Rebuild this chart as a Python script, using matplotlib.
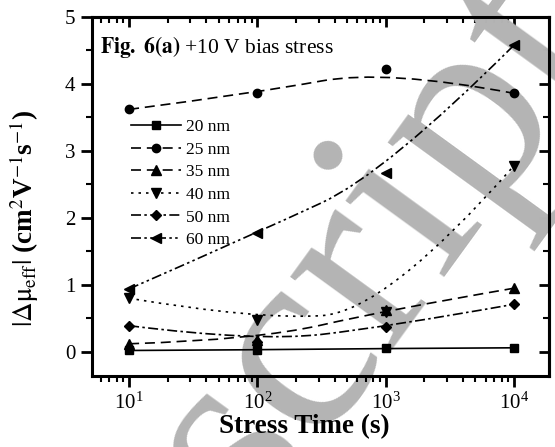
import numpy as np
from matplotlib import pyplot as plt
from matplotlib.path import Path
from matplotlib.patches import PathPatch
from matplotlib.lines import Line2D
from matplotlib.ticker import MultipleLocator, NullFormatter

plt.rcParams['font.family'] = ['Liberation Serif', 'DejaVu Serif']
plt.rcParams['mathtext.fontset'] = 'stix'

# stress time (s)
t = [10, 100, 1000, 10000]
labels = ['20 nm', '25 nm', '35 nm', '40 nm', '50 nm', '60 nm']
d20 = [0.02, 0.03, 0.05, 0.06]
d25 = [3.62, 3.87, 4.22, 3.86]
d35 = [0.12, 0.18, 0.62, 0.95]
d40 = [0.80, 0.48, 0.60, 2.78]
d50 = [0.39, 0.15, 0.37, 0.71]
d60 = [0.94, 1.78, 2.67, 4.58]
series = [d20, d25, d35, d40, d50, d60]

markers = ['s', 'o', '^', 'v', 'D', '<']
msizes = [5.5, 6, 6.5, 6.5, 5, 6.5]
styles = ['-', (0, (6, 3.5)), (0, (6, 3.5)), (0, (1.5, 3)),
          (0, (6, 2, 1.5, 2)), (0, (6, 2, 1.5, 2, 1.5, 2))]

fig = plt.figure(figsize=(5.55, 4.47), dpi=100)
ax = fig.add_axes([0.166, 0.159, 0.823, 0.803])

# watermark behind the data
ax.text(0.678, 0.452, 'script', transform=fig.transFigure, fontsize=195,
        color='#b4b4b4', rotation=54, ha='center', va='center',
        rotation_mode='anchor', zorder=0.5, clip_on=False)

ax.set_xscale('log')
handles = []
for y, m, ms, ls, lab in zip(series, markers, msizes, styles, labels):
    # quadratic B-spline connector (Origin style), knot between pts 2 and 3
    xm = np.sqrt(t[1] * t[2])
    ym = (y[1] + y[2]) / 2
    verts = [(t[0], y[0]), (t[1], y[1]), (xm, ym), (t[2], y[2]), (t[3], y[3])]
    codes = [Path.MOVETO, Path.CURVE3, Path.CURVE3, Path.CURVE3, Path.CURVE3]
    ax.add_patch(PathPatch(Path(verts, codes), fill=False, edgecolor='k',
                           lw=1.2, linestyle=ls, transform=ax.transData,
                           zorder=2))
    ax.plot(t, y, linestyle='none', marker=m, ms=ms, color='k', zorder=3)
    handles.append(Line2D([], [], color='k', lw=1.2, linestyle=ls,
                          marker=m, ms=ms))

ax.set_xlim(5.15, 18700)
ax.set_ylim(-0.36, 5)
ax.yaxis.set_major_locator(MultipleLocator(1))
ax.yaxis.set_minor_locator(MultipleLocator(0.5))

for s in ax.spines.values():
    s.set_linewidth(2.2)
ax.tick_params(which='major', direction='out', length=8, width=2,
               labelsize=15, pad=4)
ax.tick_params(which='minor', direction='out', length=4.5, width=1.5)

top = ax.secondary_xaxis('top')
top.tick_params(which='major', direction='in', length=7, width=2)
top.tick_params(which='minor', direction='in', length=4, width=1.5)
top.xaxis.set_major_formatter(NullFormatter())
top.xaxis.set_minor_formatter(NullFormatter())
top.spines['top'].set_linewidth(2.2)

right = ax.secondary_yaxis('right')
right.yaxis.set_major_locator(MultipleLocator(1))
right.yaxis.set_minor_locator(MultipleLocator(0.5))
right.tick_params(which='major', direction='in', length=7, width=2)
right.tick_params(which='minor', direction='in', length=4, width=1.5)
right.yaxis.set_major_formatter(NullFormatter())
right.spines['right'].set_linewidth(2.2)

ax.set_xlabel('Stress Time (s)', fontsize=19.5, fontweight='bold')
ax.xaxis.set_label_coords(0.464, -0.105)
ax.set_ylabel(r'$|\Delta\mathrm{μ}_{\rm eff}|$ (cm$^{2}$V$^{-1}$s$^{-1}$)',
              fontsize=19.5, fontweight='bold')
ax.yaxis.set_label_coords(-0.113, 0.44)

ax.text(0.017, 0.9, r'$\mathbf{Fig.\ 6(a)}$ +10 V bias stress',
        transform=ax.transAxes, fontsize=15.5)

ax.legend(handles, labels, loc='upper left', bbox_to_anchor=(0.07, 0.735),
          frameon=False, fontsize=12.5, handlelength=2.9, handletextpad=0.25,
          labelspacing=0.37, borderaxespad=0)

fig.savefig('out.png', dpi=100)
